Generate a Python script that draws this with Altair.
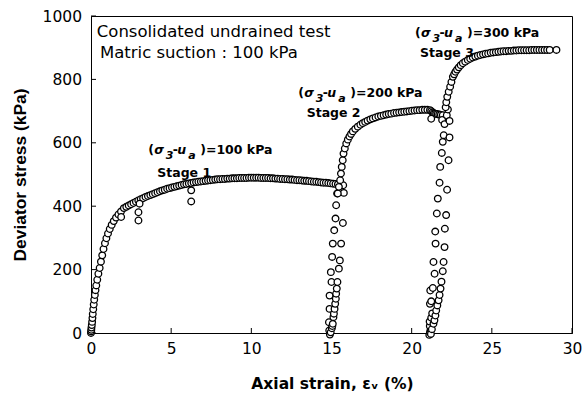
import altair as alt
import pandas as pd

# ---------------- data ----------------
# Stage 1: initial steep rise
s1a_strain = [0.00, 0.01, 0.02, 0.03, 0.05, 0.07, 0.09, 0.11, 0.14, 0.17, 0.20, 0.24, 0.28, 0.33, 0.39,
              0.46, 0.54, 0.62, 0.70, 0.78, 0.87, 0.96, 1.06, 1.17, 1.29, 1.42, 1.56, 1.71, 1.87]
s1a_stress = [0, 5, 10, 17, 25, 35, 47, 60, 75, 90, 105, 120, 135, 150, 168,
              187, 205, 225, 245, 265, 283, 299, 314, 328, 341, 353, 364, 374, 383]
# Stage 1: dense plateau
s1b_strain = [2.05, 2.20, 2.35, 2.50, 2.65, 2.80, 2.95, 3.10, 3.25, 3.40,
              3.55, 3.70, 3.85, 4.00, 4.15, 4.30, 4.45, 4.60, 4.75, 4.90,
              5.05, 5.20, 5.35, 5.50, 5.65, 5.80, 5.95, 6.10, 6.25, 6.40,
              6.55, 6.70, 6.85, 7.00, 7.15, 7.30, 7.45, 7.60, 7.75, 7.90,
              8.05, 8.20, 8.35, 8.50, 8.65, 8.80, 8.95, 9.10, 9.25, 9.40,
              9.55, 9.70, 9.85, 10.00, 10.15, 10.30, 10.45, 10.60, 10.75, 10.90,
              11.05, 11.20, 11.35, 11.50, 11.65, 11.80, 11.95, 12.10, 12.25, 12.40,
              12.55, 12.70, 12.85, 13.00, 13.15, 13.30, 13.45, 13.60, 13.75, 13.90,
              14.05, 14.20, 14.35, 14.50, 14.65, 14.80, 14.95, 15.10, 15.25, 15.40]
s1b_stress = [394, 398, 402, 406, 410, 414, 418, 422, 425, 429,
              432, 435, 438, 441, 444, 447, 450, 452, 455, 457,
              459, 461, 463, 465, 467, 469, 470, 472, 473, 475,
              476, 477, 478, 479, 480, 481, 482, 483, 484, 485,
              485, 486, 486, 487, 487, 488, 488, 488, 489, 489,
              489, 489, 490, 490, 490, 490, 490, 489, 489, 489,
              489, 488, 488, 487, 487, 486, 486, 485, 485, 484,
              484, 483, 482, 482, 481, 480, 480, 479, 478, 477,
              477, 476, 475, 474, 474, 473, 472, 471, 470, 469]
# Stage 1: scattered points below the curve
o1_strain = [1.88, 2.96, 2.96, 3.03, 6.25, 6.25]
o1_stress = [366, 355, 381, 408, 415, 450]
# Reloading column near 15 %
t1_strain = [14.90, 14.86, 14.84, 14.88, 14.88, 15.00, 14.96, 15.04, 15.08, 15.17, 15.25, 15.29, 15.35,
             14.95, 15.02, 15.05, 15.08, 15.12, 15.15, 15.19, 15.23, 15.27, 15.29, 15.33, 15.37, 15.46,
             15.52, 15.60, 15.71, 15.77, 15.73]
t1_stress = [-5, 8, 34, 76, 118, 161, 192, 240, 282, 324, 361, 403, 440,
             2, 15, 22, 29, 50, 61, 76, 92, 108, 124, 140, 161, 203,
             229, 282, 347, 442, 466]
# Stage 2 curve
s2_strain = [15.39, 15.46, 15.54, 15.59, 15.64, 15.70, 15.75, 15.83, 15.92, 16.02,
             16.12, 16.22, 16.33, 16.48, 16.64, 16.80, 16.95, 17.10, 17.25, 17.42,
             17.58, 17.75, 17.92, 18.08, 18.25, 18.41, 18.57, 18.73, 18.90, 19.06,
             19.22, 19.38, 19.54, 19.70, 19.86, 20.02, 20.18, 20.34, 20.50, 20.66,
             20.82, 20.98, 21.14]
s2_stress = [440, 461, 482, 503, 524, 545, 566, 582, 598, 610,
             620, 628, 636, 644, 651, 657, 662, 666, 670, 674,
             677, 680, 683, 685, 687, 689, 691, 692, 694, 695,
             696, 697, 698, 699, 700, 701, 702, 703, 703, 704,
             704, 704, 703]
# End of stage 2
e2_strain = [21.22, 21.30, 21.38, 21.46, 21.53, 21.62, 21.72, 21.82, 21.94, 21.22, 21.90]
e2_stress = [700, 696, 693, 692, 691, 690, 689, 688, 687, 676, 672]
# Reloading column near 21 %
c3_strain = [21.10, 21.14, 21.18, 21.13, 21.12, 21.22, 21.28, 21.14, 21.22, 21.16, 21.32, 21.43, 21.36,
             21.49, 21.47, 21.57, 21.63, 21.74, 21.78, 21.88, 21.94, 22.00, 22.05, 22.19, 22.26,
             21.20, 21.26, 21.36, 21.42, 21.48, 21.53, 21.60, 21.68, 21.74, 21.80, 21.86, 21.94,
             21.99, 22.05, 22.07, 22.15, 22.21, 22.30, 22.36, 22.36]
c3_stress = [-6, 2, 10, 22, 36, 48, 62, 92, 100, 134, 142, 187, 224,
             282, 320, 377, 424, 474, 524, 568, 603, 624, 659, 687, 705,
             -3, 12, 29, 40, 55, 71, 87, 103, 120, 140, 162, 195,
             224, 271, 329, 372, 452, 545, 617, 669]
# Stage 3 curve
s3_strain = [22.12, 22.16, 22.22, 22.31, 22.40, 22.48, 22.57, 22.65, 22.73, 22.83,
             22.94, 23.06, 23.19, 23.34, 23.50, 23.65, 23.81, 23.97, 24.13, 24.29,
             24.45, 24.61, 24.77, 24.93, 25.09, 25.25, 25.41, 25.57, 25.73, 25.89,
             26.05, 26.21, 26.37, 26.53, 26.69, 26.85, 27.01, 27.17, 27.33, 27.49,
             27.65, 27.81, 27.97, 28.13, 28.29, 28.45, 28.61, 29.03]
s3_stress = [712, 728, 745, 761, 777, 792, 808, 816, 824, 831,
             838, 845, 851, 856, 861, 865, 869, 872, 875, 877,
             879, 881, 882, 884, 885, 886, 887, 888, 889, 889,
             890, 890, 891, 891, 892, 892, 892, 892, 892, 893,
             893, 893, 893, 893, 893, 893, 893, 893]

x_ticks = [0, 5, 10, 15, 20, 25, 30]
y_ticks = [0, 200, 400, 600, 800, 1000]

note_text = ["Consolidated undrained test", "Matric suction : 100 kPa"]
note_x = [0.36, 0.56]
note_y = [933, 866]

stage_text = ["Stage 1", "Stage 2", "Stage 3"]
stage_x = [4.13, 13.45, 20.52]
stage_y = [493, 682, 870]

cond_x = [3.57, 12.93, 20.21]
cond_y = [565, 743, 933]
cond_tail = [")=100 kPa", ")=200 kPa", ")=300 kPa"]

# ---------------- build table ----------------
groups = [(s1a_strain, s1a_stress), (s1b_strain, s1b_stress), (o1_strain, o1_stress),
          (t1_strain, t1_stress), (s2_strain, s2_stress), (e2_strain, e2_stress),
          (c3_strain, c3_stress), (s3_strain, s3_stress)]
rows = []
for xs, ys in groups:
    assert len(xs) == len(ys)
    for a, b in zip(xs, ys):
        rows.append({"strain": a, "stress": b})
df = pd.DataFrame(rows)

W, H = 481, 317
FONT = "DejaVu Sans"
xscale = alt.Scale(domain=[0, 30], nice=False, zero=False)
yscale = alt.Scale(domain=[0, 1000], nice=False, zero=False)

xaxis = alt.Axis(values=x_ticks, format="d", ticks=False, tickSize=0, grid=False,
                 domainColor="black", domainWidth=1,
                 labelFont=FONT, labelFontSize=15.5, labelColor="black",
                 labelPadding=8, labelFlush=False,
                 title="Axial strain, εᵥ (%)", titleFont=FONT, titleFontSize=15.5,
                 titleFontWeight="bold", titleColor="black",
                 titleX=241, titleY=55, titleAlign="center",
                 titleBaseline="alphabetic")
yaxis = alt.Axis(values=y_ticks, format="d", ticks=False, tickSize=0, grid=False,
                 domainColor="black", domainWidth=1,
                 labelFont=FONT, labelFontSize=15.5, labelColor="black",
                 labelPadding=9.5, labelFlush=False,
                 title="Deviator stress (kPa)", titleFont="Liberation Sans",
                 titleFontSize=17.4, titleFontWeight="bold", titleColor="black",
                 titleX=-66, titleY=H / 2, titleAlign="center",
                 titleBaseline="alphabetic")


def X(field):
    return alt.X(field, scale=xscale, axis=xaxis, title="Axial strain, εᵥ (%)")


def Y(field):
    return alt.Y(field, scale=yscale, axis=yaxis, title="Deviator stress (kPa)")


xt = alt.Chart(pd.DataFrame({"t": x_ticks})).mark_rule(color="black", strokeWidth=1).encode(
    x=X("t:Q"), y=alt.value(H), y2=alt.value(H - 5))
yt = alt.Chart(pd.DataFrame({"t": y_ticks})).mark_rule(color="black", strokeWidth=1).encode(
    y=Y("t:Q"), x=alt.value(0), x2=alt.value(5))

points = alt.Chart(df).mark_point(
    shape="circle", filled=True, fill="white", stroke="black",
    strokeWidth=1.3, size=44, opacity=1
).encode(x=X("strain:Q"), y=Y("stress:Q"))

notes = alt.Chart(pd.DataFrame({"x": note_x, "y": note_y, "t": note_text})).mark_text(
    align="left", baseline="alphabetic", font=FONT, fontSize=16.5, color="black"
).encode(x=X("x:Q"), y=Y("y:Q"), text="t:N")

stages = alt.Chart(pd.DataFrame({"x": stage_x, "y": stage_y, "t": stage_text})).mark_text(
    align="left", baseline="alphabetic", font=FONT, fontSize=12.5, fontWeight="bold", color="black"
).encode(x=X("x:Q"), y=Y("y:Q"), text="t:N")

# condition labels "(σ3-ua )=... kPa" built from pieces
pieces = [("(", 0, 0, "normal", 12.5), ("σ", 6, 0, "italic", 12.5), ("3", 17.5, 5, "italic", 11),
          ("-", 24.5, 0, "normal", 12.5), ("u", 29, 0, "italic", 12.5), ("a", 40, 5, "italic", 11)]
cond_layers = []
for txt, dx, dy, style, fs in pieces:
    cond_layers.append(
        alt.Chart(pd.DataFrame({"x": cond_x, "y": cond_y, "t": [txt] * 3})).mark_text(
            align="left", baseline="alphabetic", font=FONT, fontSize=fs, fontWeight="bold",
            fontStyle=style, color="black", dx=dx, dy=dy
        ).encode(x=X("x:Q"), y=Y("y:Q"), text="t:N")
    )
cond_layers.append(
    alt.Chart(pd.DataFrame({"x": cond_x, "y": cond_y, "t": cond_tail})).mark_text(
        align="left", baseline="alphabetic", font=FONT, fontSize=12.5, fontWeight="bold",
        color="black", dx=52
    ).encode(x=X("x:Q"), y=Y("y:Q"), text="t:N")
)

chart = alt.layer(xt, yt, points, notes, stages, *cond_layers).properties(
    width=W, height=H,
    autosize=alt.AutoSizeParams(type="none"),
    padding={"left": 91, "top": 16, "right": 13, "bottom": 63},
    background="white",
).configure_view(stroke="black", strokeWidth=1)

chart.save("out.html", embed_options={"renderer": "svg", "actions": False})
